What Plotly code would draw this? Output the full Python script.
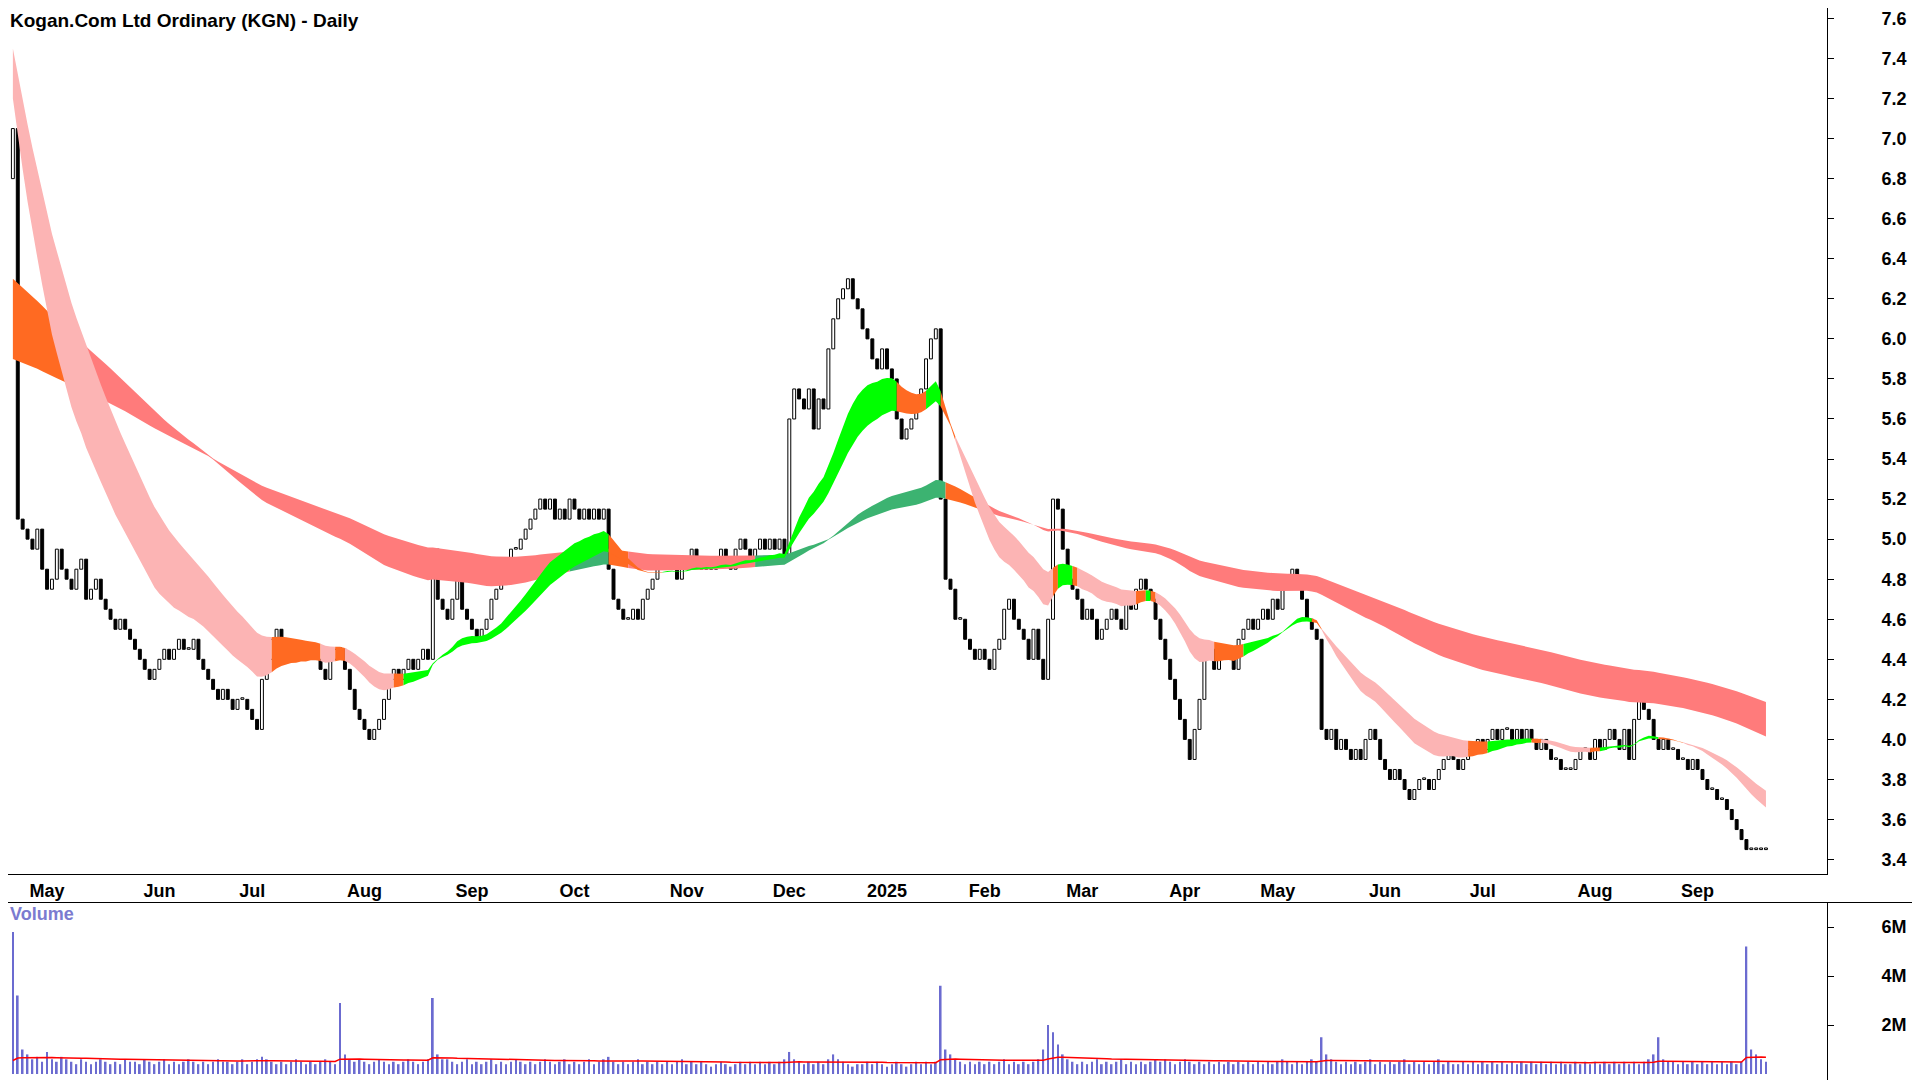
import plotly.graph_objects as go
import numpy as np

TITLE = "Kogan.Com Ltd Ordinary (KGN) - Daily"
month_labels = ["", "May", "Jun", "Jul", "Aug", "Sep", "Oct", "Nov", "Dec", "2025",
                "Feb", "Mar", "Apr", "May", "Jun", "Jul", "Aug", "Sep"]
closes_by_month = [
    [7.05, 5.1],
    [5.05,5.0,4.95,5.05,4.85,4.75,4.8,4.95,4.85,4.8,4.75,4.85,4.9,4.7,4.75,4.8,4.7,4.65,4.6,4.55,4.6,4.55,4.5],
    [4.45,4.4,4.35,4.3,4.35,4.4,4.45,4.4,4.45,4.5,4.45,4.45,4.5,4.4,4.35,4.3,4.25,4.2,4.25],
    [4.2,4.15,4.2,4.2,4.15,4.1,4.05,4.3,4.4,4.5,4.55,4.5,4.45,4.45,4.4,4.45,4.4,4.45,4.4,4.35,4.3,4.4,4.45],
    [4.45,4.35,4.25,4.15,4.1,4.05,4.0,4.05,4.1,4.2,4.3,4.35,4.3,4.35,4.4,4.35,4.4,4.45,4.4,4.95,4.7,4.65],
    [4.6,4.7,4.8,4.65,4.6,4.55,4.5,4.55,4.6,4.7,4.75,4.8,4.9,4.95,4.95,5.0,5.05,5.1,5.15,5.2,5.15],
    [5.2,5.1,5.15,5.1,5.2,5.15,5.1,5.15,5.1,5.15,5.1,5.15,4.85,4.7,4.65,4.6,4.6,4.65,4.6,4.7,4.75,4.8,4.85],
    [4.85,4.9,4.85,4.8,4.85,4.9,4.95,4.9,4.85,4.9,4.85,4.9,4.95,4.9,4.85,4.95,5.0,4.95,4.9,4.95,5.0],
    [4.95,5.0,4.95,5.0,4.9,5.6,5.75,5.7,5.65,5.75,5.55,5.7,5.65,5.95,6.1,6.2,6.25,6.3,6.2,6.15],
    [6.05,6.0,5.9,5.85,5.95,5.85,5.8,5.6,5.5,5.55,5.6,5.65,5.75,5.9,6.0,6.05,5.2,4.8,4.75,4.6],
    [4.6,4.5,4.45,4.4,4.45,4.4,4.35,4.45,4.5,4.65,4.7,4.6,4.55,4.5,4.4,4.55,4.4,4.3,4.6,5.2],
    [5.15,4.95,4.8,4.75,4.7,4.6,4.65,4.6,4.5,4.55,4.6,4.65,4.6,4.55,4.7,4.65,4.75,4.8,4.75,4.7,4.6],
    [4.5,4.4,4.3,4.2,4.1,4.0,3.9,4.05,4.2,4.4,4.45,4.35,4.4,4.45,4.4,4.35,4.5,4.55,4.6],
    [4.55,4.6,4.65,4.6,4.7,4.65,4.75,4.8,4.85,4.8,4.7,4.6,4.55,4.5,4.05,4.0,4.05,3.95,4.0,3.95,3.9,3.95],
    [3.9,4.0,4.05,4.0,3.9,3.85,3.8,3.85,3.8,3.75,3.7,3.75,3.8,3.8,3.75,3.8,3.85,3.9,3.95,3.9],
    [3.85,3.9,3.95,3.95,4.0,3.95,4.0,4.05,4.0,4.05,4.05,4.0,4.05,4.0,4.05,4.0,3.95,4.0,3.95,3.9,3.9,3.85,3.85],
    [3.85,3.9,3.95,3.95,3.9,4.0,3.95,4.0,4.05,4.0,3.95,4.05,3.9,4.1,4.25,4.15,4.1,4.0,3.95,4.0,3.95],
    [3.95,3.9,3.9,3.85,3.9,3.85,3.8,3.75,3.75,3.7,3.7,3.65,3.6,3.55,3.5,3.45,3.45,3.45,3.45,3.45],
]
first_open = 6.8
# volume in units of 100k shares
volume_by_month = [
    "58 32",
    "10 8 6 7 5 9 6 5 7 6 5 4 6 5 4 5 6 5 4 5 4 6 5",
    "5 4 6 5 4 5 6 4 5 4 5 6 5 4 5 4 5 6 5",
    "5 4 5 6 4 5 6 7 6 5 4 5 4 5 6 5 4 5 4 5 6 5 4",
    "29 8 6 5 6 5 4 5 6 5 4 5 4 5 6 5 4 5 6 31 8 6",
    "6 5 4 5 6 4 5 4 5 6 4 5 4 5 6 5 4 5 4 5 6",
    "5 4 5 6 4 5 4 5 6 4 5 6 7 5 4 5 4 5 6 4 5 4 5",
    "4 5 4 5 6 4 5 4 5 4 3 4 5 4 3 4 5 4 5 4 5",
    "4 5 4 5 6 9 6 5 4 5 4 5 4 6 8 6 5 4 3 4",
    "4 5 4 5 4 3 4 5 4 3 4 5 4 5 4 5 36 10 8 6",
    "5 4 5 4 5 4 5 4 5 6 4 5 4 5 4 5 6 10 20 17",
    "12 8 6 5 4 5 4 5 6 4 5 4 5 6 4 5 4 5 4 5 6",
    "5 6 5 4 5 6 5 4 5 4 5 4 5 4 5 4 5 4 5",
    "4 5 4 5 4 5 6 5 4 5 4 5 6 5 15 8 6 5 4 5 4 5",
    "4 5 6 4 5 4 5 4 5 6 4 5 4 5 4 5 6 4 5 4",
    "4 5 4 5 4 5 4 5 4 5 4 5 4 5 4 5 4 5 4 5 4 5 4",
    "4 5 4 5 4 5 4 5 4 5 4 5 4 5 4 5 6 8 15 6 5",
    "5 4 5 4 5 4 5 4 5 4 5 4 5 4 5 52 10 8 6 5",
]
seeds = {"sf": 7.2, "ss": 7.45, "lf": 6.3, "ls": 5.9}
spans = {"sf": 22, "ss": 35, "lf": 110, "ls": 170}
vol_ma_seed, vol_ma_span = 5.5e5, 50
price_ticks = [3.4 + 0.2 * i for i in range(22)]

closes, vols, month_start = [], [], []
for cl, vs in zip(closes_by_month, volume_by_month):
    v = [float(s) * 1e5 for s in vs.split()]
    if len(v) != len(cl):
        raise ValueError(f"len mismatch {len(cl)} {len(v)}")
    month_start.append(len(closes))
    closes += cl
    vols += v
closes = np.array(closes); vols = np.array(vols)
n = len(closes)
x = np.arange(n)
opens = np.concatenate([[first_open], closes[:-1]])

def ema(src, seed, span):
    a = 2 / (span + 1)
    out = np.empty(n); out[0] = seed
    for t in range(1, n):
        out[t] = out[t - 1] + a * (src[t] - out[t - 1])
    return out

E = {k: ema(closes, seeds[k], spans[k]) for k in seeds}
short_mid = (E["sf"] + E["ss"]) / 2
long_mid = (E["lf"] + E["ls"]) / 2

def slope(a, k=3):
    out = np.zeros(n)
    for t in range(n):
        out[t] = a[min(n - 1, t + 1)] - a[max(0, t - k)]
    return out

dsf, dss, dlf, dls = slope(E["sf"]), slope(E["ss"]), slope(E["lf"]), slope(E["ls"])
short_col, long_col = [], []
for t in range(n):
    if dsf[t] > 0 and dss[t] > 0:
        short_col.append("#00ff00")
    elif dsf[t] < 0 and dss[t] < 0 and E["sf"][t] < E["ss"][t]:
        short_col.append("#fcb4b4")
    else:
        short_col.append("#ff6a22")
    if short_mid[t] > long_mid[t]:
        long_col.append("#3cb371" if (dlf[t] > 0 and dls[t] > 0) else "#ff6a22")
    else:
        long_col.append("#ff7b7b")

fig = go.Figure()

def band(a, b, cols):
    lo = np.minimum(a, b); hi = np.maximum(a, b)
    start = 0
    for t in range(1, n + 1):
        if t == n or cols[t] != cols[start]:
            end = min(t, n - 1)
            xs = x[start:end + 1]
            fig.add_trace(go.Scatter(x=xs, y=lo[start:end + 1], mode="lines",
                                     line=dict(width=0), hoverinfo="skip", showlegend=False))
            fig.add_trace(go.Scatter(x=xs, y=hi[start:end + 1], mode="lines",
                                     line=dict(width=0), fill="tonexty", fillcolor=cols[start],
                                     hoverinfo="skip", showlegend=False))
            start = t

band(E["lf"], E["ls"], long_col)
band(E["sf"], E["ss"], short_col)

# candle bodies drawn as floating bars
lo_b = np.minimum(opens, closes)
hi_b = np.maximum(opens, closes)
body = np.maximum(hi_b - lo_b, 0.008)
up = closes >= opens
fig.add_trace(go.Bar(x=x, y=body, base=lo_b, width=0.6,
                     marker=dict(color=np.where(up, "white", "black"),
                                 line=dict(color="black", width=1)),
                     showlegend=False, hoverinfo="skip", xaxis="x", yaxis="y"))

fig.add_trace(go.Bar(x=x, y=vols, marker=dict(color="#6b6bd0", line=dict(width=0)),
                     width=0.35, showlegend=False, xaxis="x2", yaxis="y2"))
vma = ema(vols, vol_ma_seed, vol_ma_span)
fig.add_trace(go.Scatter(x=x, y=vma, mode="lines", line=dict(color="#ff0000", width=1.5),
                         showlegend=False, xaxis="x2", yaxis="y2"))

W, H = 1912, 1072
xr = [-1.0, 371.5]
tickvals = [s + 5 for s in month_start[1:]]
vol_top = 1 - 894.5 / H
fig.update_layout(
    width=W, height=H, autosize=False, barmode="overlay",
    paper_bgcolor="white", plot_bgcolor="white",
    margin=dict(l=0, r=93, t=0, b=0),
    font=dict(family="Liberation Sans, Arial", color="black"),
    xaxis=dict(domain=[0, 1], range=xr,
               tickvals=tickvals, ticktext=[f"<b>{m}</b>" for m in month_labels[1:]],
               tickfont=dict(size=18), ticks="", showgrid=False, zeroline=False,
               showline=True, linecolor="black", linewidth=1, anchor="y"),
    yaxis=dict(domain=[1 - 866.3 / H, 1], range=[3.3266, 7.652], side="right",
               tickvals=price_ticks, ticktext=[f"<b>{v:.1f}</b>" for v in price_ticks],
               tickfont=dict(size=18), ticks="outside", ticklen=6, tickcolor="black",
               ticklabelstandoff=44,
               showgrid=False, zeroline=False, showline=True, linecolor="black", anchor="x"),
    xaxis2=dict(domain=[0, 1], range=xr, showticklabels=False, ticks="", showgrid=False,
                zeroline=False, anchor="y2"),
    yaxis2=dict(domain=[0, vol_top], range=[-0.245e6, 7.0e6], side="right",
                tickvals=[2e6, 4e6, 6e6], ticktext=["<b>2M</b>", "<b>4M</b>", "<b>6M</b>"],
                tickfont=dict(size=18), ticks="outside", ticklen=6, tickcolor="black",
                ticklabelstandoff=44,
                showgrid=False, zeroline=False, showline=True, linecolor="black", anchor="x2"),
    shapes=[dict(type="line", xref="paper", yref="paper", x0=0, x1=1.06,
                 y0=vol_top, y1=vol_top, line=dict(color="black", width=1))],
    annotations=[
        dict(text=f"<b>{TITLE}</b>", xref="paper", yref="paper", x=0.0, y=1.0,
             xanchor="left", yanchor="top", showarrow=False, font=dict(size=19)),
        dict(text="<b>Volume</b>", xref="paper", yref="paper", x=0.0, y=vol_top,
             xanchor="left", yanchor="top", showarrow=False, font=dict(size=18, color="#7b7bd0")),
    ],
)
fig.write_html("out.html")
